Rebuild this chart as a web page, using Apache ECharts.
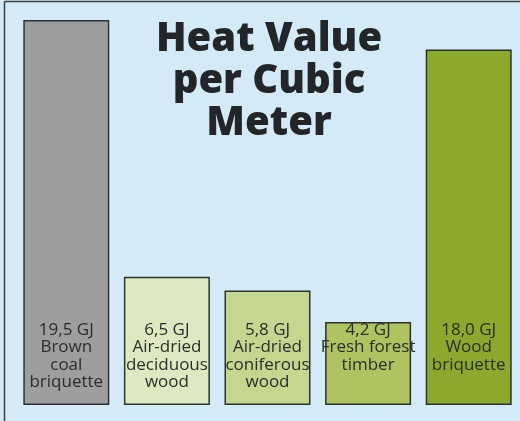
<!DOCTYPE html>
<html>
<head>
<meta charset="utf-8">
<script src="https://cdn.jsdelivr.net/npm/echarts@6/dist/echarts.min.js"></script>
<style>
html,body{margin:0;padding:0;background:#d4ebf7;}
#c{width:520px;height:421px;}
</style>
</head>
<body>
<div id="c"></div>
<script>
const categories = ["Brown\ncoal\nbriquette", "Air-dried\ndeciduous\nwood", "Air-dried\nconiferous\nwood", "Fresh forest\ntimber", "Wood\nbriquette"];
const valueLabels = ["19,5 GJ", "6,5 GJ", "5,8 GJ", "4,2 GJ", "18,0 GJ"];
const values = [19.5, 6.5, 5.8, 4.2, 18.0];
const barColors = ["#9c9e9f", "#dfe9c1", "#c5d68e", "#afc460", "#8ba92d"];
const titleText = "Heat Value\nper Cubic\nMeter";

const chart = echarts.init(document.getElementById('c'), null, {renderer: 'canvas'});
chart.setOption({
  backgroundColor: '#d4ebf7',
  animation: false,
  title: {
    text: titleText,
    left: 264, top: 14, textAlign: 'center',
    textStyle: {
      fontFamily: 'Open Sans', fontWeight: 800, fontSize: 40,
      lineHeight: 42, color: '#222628'
    }
  },
  grid: {left: 16, right: 1, top: 20, bottom: 16},
  xAxis: {
    type: 'category', data: categories,
    axisLine: {show: false}, axisTick: {show: false}, axisLabel: {show: false}
  },
  yAxis: {
    type: 'value', min: 0, max: 19.5,
    show: false, splitLine: {show: false}
  },
  series: [{
    type: 'bar',
    barWidth: 86,
    data: values.map((v, i) => ({
      value: v,
      itemStyle: {color: barColors[i]}
    })),
    itemStyle: {borderColor: '#2e3131', borderWidth: 1.5},
    label: {
      show: true,
      position: 'insideBottom',
      verticalAlign: 'top',
      offset: [0, -79],
      formatter: p => valueLabels[p.dataIndex] + '\n' + categories[p.dataIndex],
      fontFamily: 'Open Sans', fontSize: 17, lineHeight: 17.5,
      color: '#2b2d2c'
    }
  }],
  graphic: [
    {type: 'line', shape: {x1: 4.5, y1: 1.5, x2: 4.5, y2: 421}, style: {stroke: '#3a3c3c', lineWidth: 1.5}},
    {type: 'line', shape: {x1: 4.5, y1: 1.5, x2: 520, y2: 1.5}, style: {stroke: '#3a3c3c', lineWidth: 1.5}}
  ]
});
</script>
</body>
</html>
